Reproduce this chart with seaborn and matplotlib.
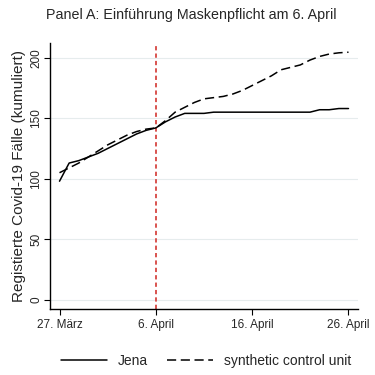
import pandas as pd
import matplotlib
matplotlib.use("Agg")
import matplotlib.pyplot as plt
import seaborn as sns

# cumulative cases, 27 March .. 26 April
dates = pd.date_range("2020-03-27", "2020-04-26", freq="D")
jena = [98, 113, 115, 118, 121, 125, 129, 133, 137, 140, 142,
        147, 151, 154, 154, 154, 155, 155, 155, 155, 155,
        155, 155, 155, 155, 155, 155, 157, 157, 158, 158]
synthetic = [105, 109, 113, 118, 123, 128, 132, 136, 139, 141, 142,
             148, 155, 159, 163, 166, 167, 168, 170, 173, 177,
             181, 185, 190, 192, 194, 198, 201, 203, 204, 204.5]
tick_dates = ["2020-03-27", "2020-04-06", "2020-04-16", "2020-04-26"]
tick_labels = ["27. März", "6. April", "16. April", "26. April"]
y_ticks = [0, 50, 100, 150, 200]
intervention = "2020-04-06"

df = pd.DataFrame({"date": dates, "Jena": jena, "synthetic control unit": synthetic})
long_df = df.melt(id_vars="date", var_name="unit", value_name="cases")

sns.set_style("white")
plt.rcParams["font.family"] = ["Liberation Sans", "DejaVu Sans"]

fig = plt.figure(figsize=(3.75, 3.75), dpi=100)
ax = fig.add_axes([0.133, 0.176, 0.822, 0.709])

for y in y_ticks:
    ax.axhline(y, color="#e6eced", lw=0.8, zorder=0)

ax.axvline(pd.Timestamp(intervention), color="#d9534f", lw=1.4,
           dashes=(2.2, 1.6), zorder=1)

sns.lineplot(data=long_df, x="date", y="cases", style="unit",
             dashes={"Jena": "", "synthetic control unit": (6, 3)},
             color="black", lw=1.1, ax=ax, legend=False, zorder=2)

ax.set_xlim(pd.Timestamp("2020-03-26"), pd.Timestamp("2020-04-27"))
ax.set_ylim(-7.5, 212)
ax.set_xticks(pd.to_datetime(tick_dates))
ax.set_xticklabels(tick_labels, fontsize=8.5)
ax.set_yticks(y_ticks)
ax.set_yticklabels([str(v) for v in y_ticks], fontsize=8.5, rotation=90, va="center")
ax.tick_params(axis="both", direction="out", length=4, width=0.8, color="black",
               bottom=True, left=True)
ax.tick_params(axis="y", pad=1.5)
ax.tick_params(axis="x", pad=3)
ax.set_xlabel("")
ax.set_ylabel("Registierte Covid-19 Fälle (kumuliert)", fontsize=11, labelpad=3)
for side in ["top", "right"]:
    ax.spines[side].set_visible(False)
for side in ["left", "bottom"]:
    ax.spines[side].set_color("black")
    ax.spines[side].set_linewidth(1.0)

fig.suptitle("Panel A: Einführung Maskenpflicht am 6. April", fontsize=10.3, x=0.51, y=0.98)

h1, = ax.plot([], [], color="black", lw=1.1)
h2, = ax.plot([], [], color="black", lw=1.1, dashes=(6, 3))
fig.legend([h1, h2], ["Jena", "synthetic control unit"], loc="lower center",
           bbox_to_anchor=(0.55, -0.015), ncol=2, frameon=False, fontsize=10,
           handlelength=3.3, columnspacing=1.4)

fig.savefig("out.png", dpi=100)
